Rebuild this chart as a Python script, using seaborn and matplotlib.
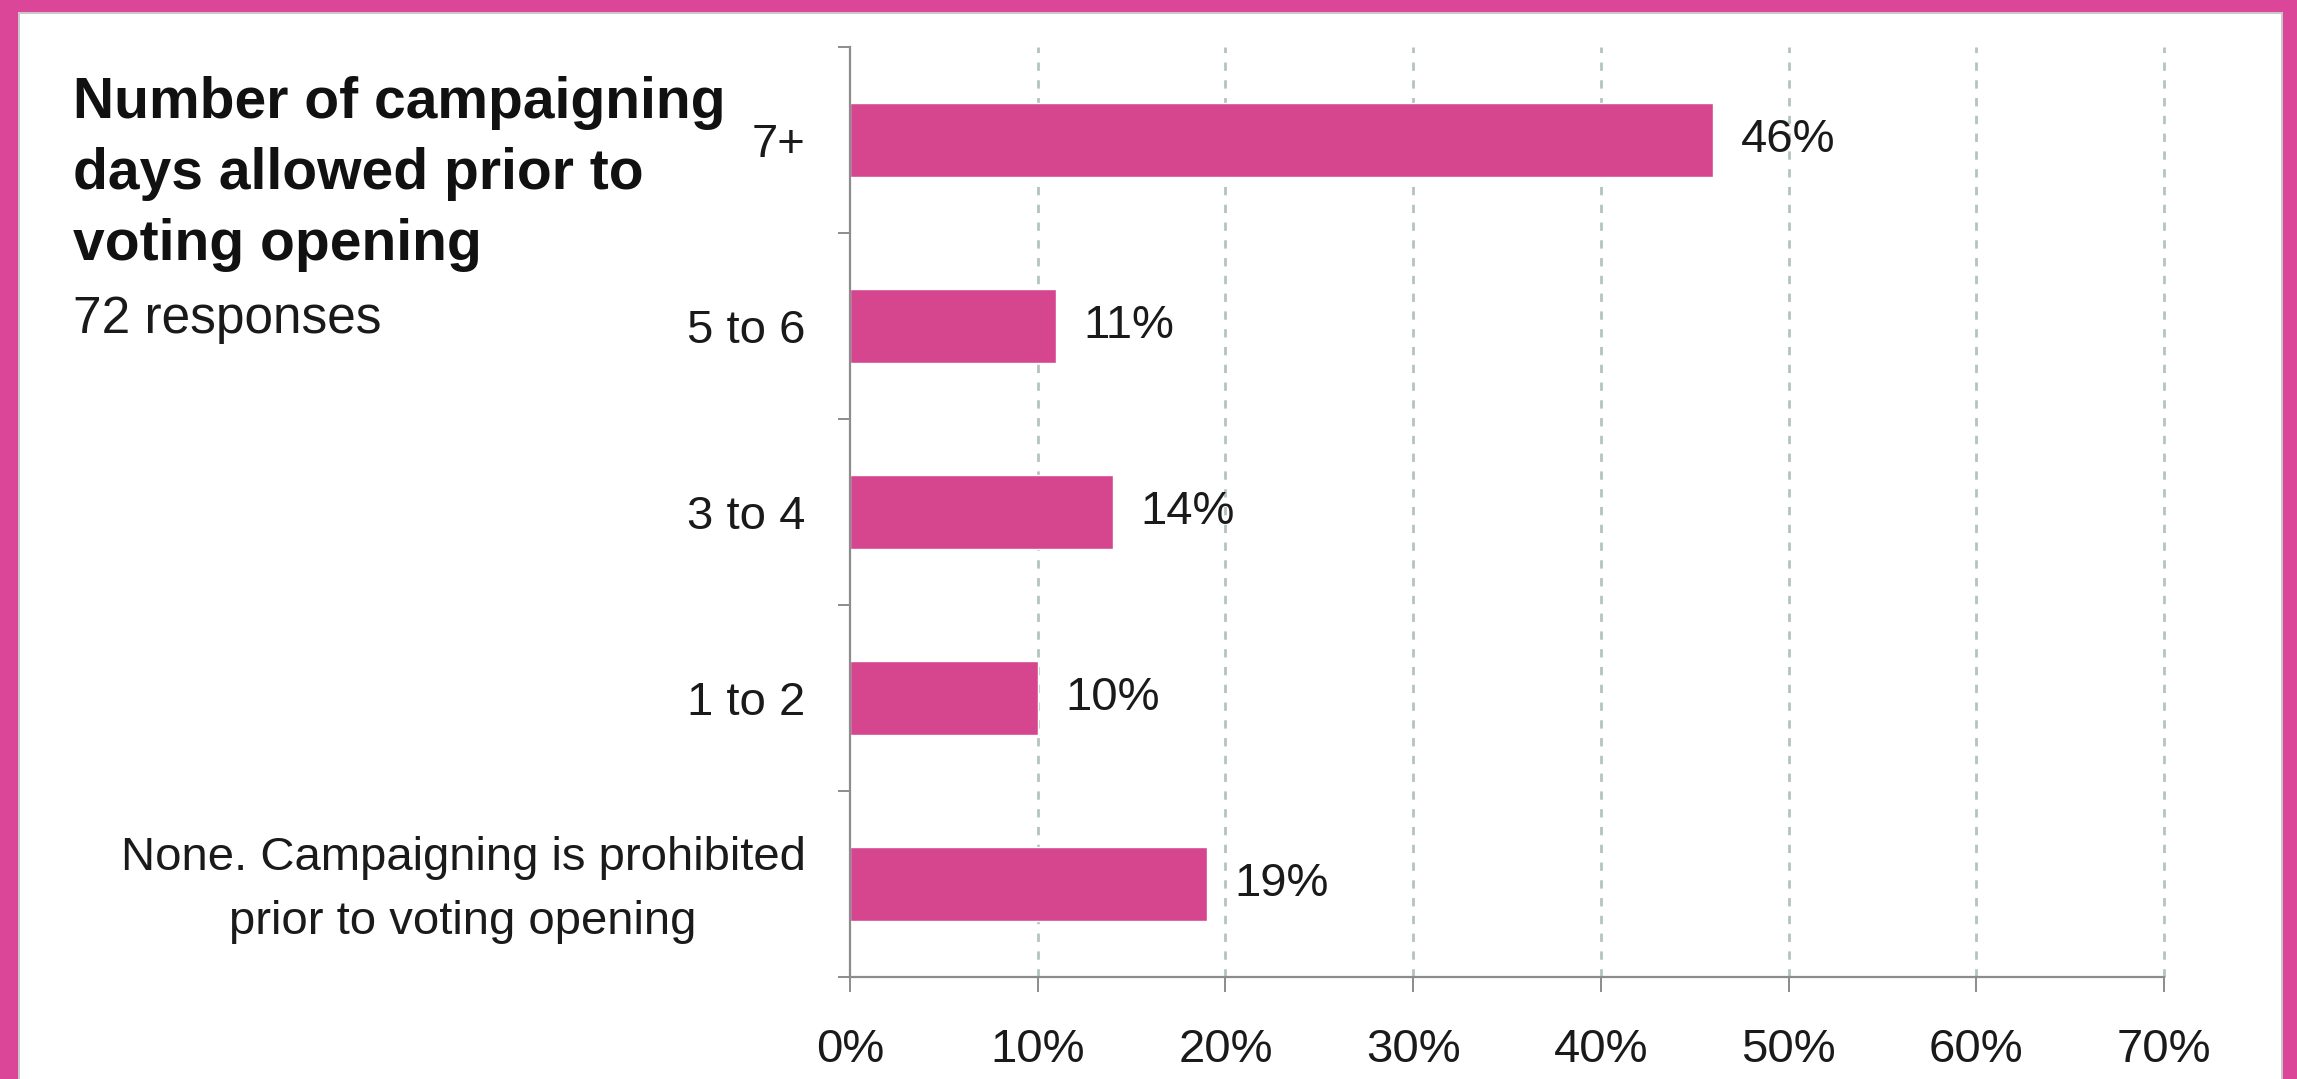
import matplotlib
matplotlib.use("Agg")
import matplotlib.pyplot as plt
import matplotlib.transforms as mtransforms
import seaborn as sns
import pandas as pd
import numpy as np
from matplotlib.patches import Rectangle
from matplotlib.ticker import FixedLocator, PercentFormatter

# Survey responses: share of respondents per campaigning-days band
categories = ["7+", "5 to 6", "3 to 4", "1 to 2",
              "None. Campaigning is prohibited\nprior to voting opening"]
shares = [46, 11, 14, 10, 19]
xticks = [0, 10, 20, 30, 40, 50, 60, 70]

title_lines = "Number of campaigning\ndays allowed prior to\nvoting opening"
subtitle = "72 responses"

PINK = "#D6468F"
FRAME = "#DC4699"
GRID = "#B4C4C0"
AXIS = "#8C8C8C"
TEXT = "#1a1a1a"

sns.set_theme(style="white")
plt.rcParams["font.family"] = ["Liberation Sans", "DejaVu Sans"]

df = pd.DataFrame({"category": categories, "share": shares})

W, H = 2297, 1079
fig = plt.figure(figsize=(W / 100, H / 100), dpi=100)
fig.patch.set_facecolor("white")
ax = fig.add_axes([850 / W, 1 - 977 / H, (2164 - 850) / W, (977 - 47) / H])

sns.barplot(data=df, x="share", y="category", orient="h", color=PINK,
            width=0.4, saturation=1, ax=ax, zorder=3)

ax.set_xlim(0, 70)
ax.set_ylim(len(categories) - 0.5, -0.5)
ax.xaxis.set_major_locator(FixedLocator(xticks))
ax.xaxis.set_major_formatter(PercentFormatter(decimals=0))
ax.set_xlabel("")
ax.set_ylabel("")

# Dashed vertical gridlines
for v in xticks[1:]:
    ax.axvline(v, color=GRID, lw=2.0, ls=(0, (3, 3.4)), zorder=1, clip_on=False)

for s in ["top", "right"]:
    ax.spines[s].set_visible(False)
for s in ["left", "bottom"]:
    ax.spines[s].set_color(AXIS)
    ax.spines[s].set_linewidth(1.6)
    ax.spines[s].set_zorder(4)

ax.tick_params(axis="x", bottom=True, length=11, width=1.4, color=AXIS,
               direction="out", pad=26, labelsize=34, labelcolor=TEXT)
ax.tick_params(axis="y", which="major", left=True, length=0, pad=32,
               labelsize=34, labelcolor=TEXT)
ax.yaxis.set_minor_locator(FixedLocator(np.arange(-0.5, len(categories), 1.0)))
ax.tick_params(axis="y", which="minor", left=True, length=8.5, width=1.4,
               color=AXIS, direction="out")
for lab in ax.get_yticklabels():
    lab.set_multialignment("center")
    lab.set_linespacing(1.6)
    if "\n" in lab.get_text():
        # nudge the two-line label up so the block sits centred on its bar
        lab.set_transform(lab.get_transform() +
                          mtransforms.ScaledTranslation(0, 9 / 100, fig.dpi_scale_trans))

# Value labels at the end of each bar
for i, v in enumerate(shares):
    ax.text(v + 1.45, i, f"{v}%", va="center", ha="left", fontsize=34,
            color=TEXT, zorder=5)

# Title block
fig.text(73 / W, 1 - 174 / H, title_lines, ha="left", va="center",
         fontsize=41, fontweight="bold", color="#111111", linespacing=1.41)
fig.text(73 / W, 1 - 319 / H, subtitle, ha="left", va="center",
         fontsize=37, color=TEXT)

# Pink frame (top, left, right) with a faint inner edge
fr = dict(transform=fig.transFigure, edgecolor="none", zorder=10)
fig.patches.append(Rectangle((0, 1 - 14 / H), 1, 14 / H, facecolor="#C8C8C8", **fr))
fig.patches.append(Rectangle((0, 0), 20 / W, 1, facecolor="#C8C8C8", **fr))
fig.patches.append(Rectangle((1 - 16 / W, 0), 16 / W, 1, facecolor="#C8C8C8", **fr))
fig.patches.append(Rectangle((0, 1 - 12 / H), 1, 12 / H, facecolor=FRAME, **fr))
fig.patches.append(Rectangle((0, 0), 18 / W, 1, facecolor=FRAME, **fr))
fig.patches.append(Rectangle((1 - 14 / W, 0), 14 / W, 1, facecolor=FRAME, **fr))

fig.savefig("out.png", dpi=100, facecolor="white")
